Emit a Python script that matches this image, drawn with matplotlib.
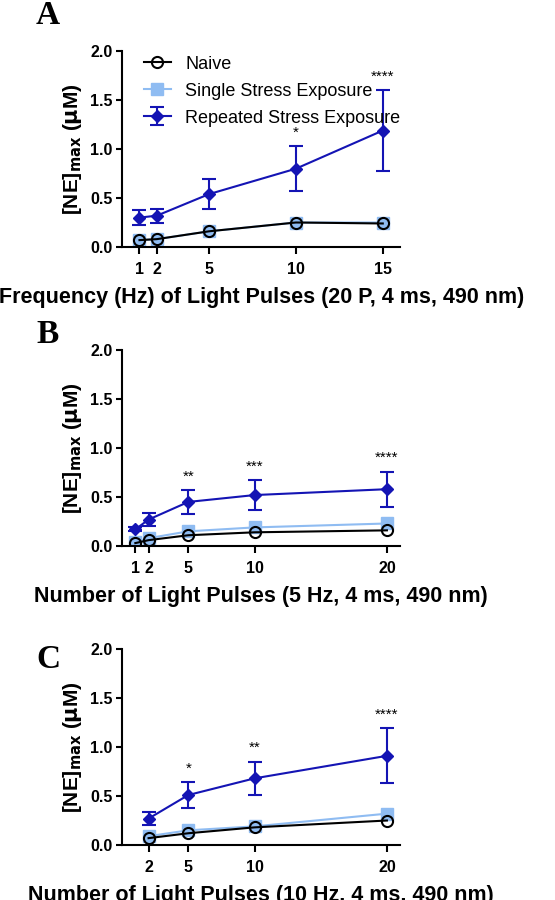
import matplotlib
matplotlib.use('Agg')
import matplotlib.pyplot as plt

plt.rcParams['font.family'] = ['Liberation Sans', 'DejaVu Sans']

# panel A - frequency
xA = [1, 2, 5, 10, 15]
naiveA = [0.07, 0.08, 0.16, 0.25, 0.24]
singleA = [0.07, 0.08, 0.16, 0.25, 0.25]
repA = [0.30, 0.32, 0.54, 0.80, 1.19]
repA_err = [0.08, 0.07, 0.15, 0.23, 0.41]
starsA = {10: '*', 15: '****'}

# panel B - number of pulses, 5 Hz
xB = [1, 2, 5, 10, 20]
naiveB = [0.03, 0.06, 0.11, 0.14, 0.16]
singleB = [0.04, 0.08, 0.15, 0.19, 0.23]
repB = [0.17, 0.27, 0.45, 0.52, 0.58]
repB_err = [0.02, 0.07, 0.12, 0.15, 0.18]
starsB = {5: '**', 10: '***', 20: '****'}

# panel C - number of pulses, 10 Hz
xC = [2, 5, 10, 20]
naiveC = [0.07, 0.12, 0.18, 0.25]
singleC = [0.09, 0.15, 0.19, 0.32]
repC = [0.27, 0.51, 0.68, 0.91]
repC_err = [0.07, 0.13, 0.17, 0.28]
starsC = {5: '*', 10: '**', 20: '****'}

blue = '#1414b4'
light = '#8fbcf2'

fig = plt.figure(figsize=(5.55, 9), dpi=100)

panels = [
    ('A', 0.983, [0.22, 0.7256, 0.501, 0.2174], xA, naiveA, singleA, repA, repA_err, starsA,
     (0, 16), 'Frequency (Hz) of Light Pulses (20 P, 4 ms, 490 nm)', True),
    ('B', 0.628, [0.22, 0.3933, 0.501, 0.2178], xB, naiveB, singleB, repB, repB_err, starsB,
     (0, 21), 'Number of Light Pulses (5 Hz, 4 ms, 490 nm)', False),
    ('C', 0.267, [0.22, 0.0611, 0.501, 0.2178], xC, naiveC, singleC, repC, repC_err, starsC,
     (0, 21), 'Number of Light Pulses (10 Hz, 4 ms, 490 nm)', False),
]

for letter, ly, rect, x, nv, sg, rp, er, stars, xlim, xlabel, legend in panels:
    ax = fig.add_axes(rect)
    ax.plot(x, sg, color=light, marker='s', ms=8, lw=1.5, label='Single Stress Exposure', zorder=2)
    ax.plot(x, nv, color='black', marker='o', ms=8, mfc='none', mew=1.5, lw=1.5,
            label='Naive', zorder=3)
    ax.errorbar(x, rp, yerr=er, color=blue, marker='D', ms=6, lw=1.5, capsize=5,
                capthick=1.5, label='Repeated Stress Exposure', zorder=4)
    for xs, s in stars.items():
        i = x.index(xs)
        ax.text(xs, rp[i] + er[i] + 0.07, s, ha='center', va='bottom', fontsize=11)
    ax.set_xlim(*xlim)
    ax.set_ylim(0, 2.0)
    ax.set_xticks(x)
    ax.set_yticks([0, 0.5, 1.0, 1.5, 2.0])
    ax.set_yticklabels(['0.0', '0.5', '1.0', '1.5', '2.0'])
    ax.spines['top'].set_visible(False)
    ax.spines['right'].set_visible(False)
    ax.spines['left'].set_linewidth(1.5)
    ax.spines['bottom'].set_linewidth(1.5)
    ax.tick_params(axis='x', width=1.5, length=5, labelsize=11.5, pad=6)
    ax.tick_params(axis='y', width=1.5, length=4, labelsize=11.5, pad=3)
    for t in ax.get_xticklabels() + ax.get_yticklabels():
        t.set_fontweight('bold')
    ax.set_ylabel(r'[NE]$_{\mathbf{max}}$ ($\mathbf{\mu}$M)', fontsize=15, fontweight='bold',
                  labelpad=4)
    ax.set_xlabel(xlabel, fontsize=15.5, fontweight='bold', labelpad=7)
    if legend:
        h, l = ax.get_legend_handles_labels()
        order = [l.index('Naive'), l.index('Single Stress Exposure'), l.index('Repeated Stress Exposure')]
        ax.legend([h[i] for i in order], [l[i] for i in order], loc='upper left',
                  frameon=False, fontsize=13, handlelength=1.5, labelspacing=0.55,
                  bbox_to_anchor=(0.02, 1.06))
    fig.text(0.065, ly, letter, fontsize=24, fontweight='bold',
             family='Liberation Serif', va='center')

fig.savefig('out.png', dpi=100)
